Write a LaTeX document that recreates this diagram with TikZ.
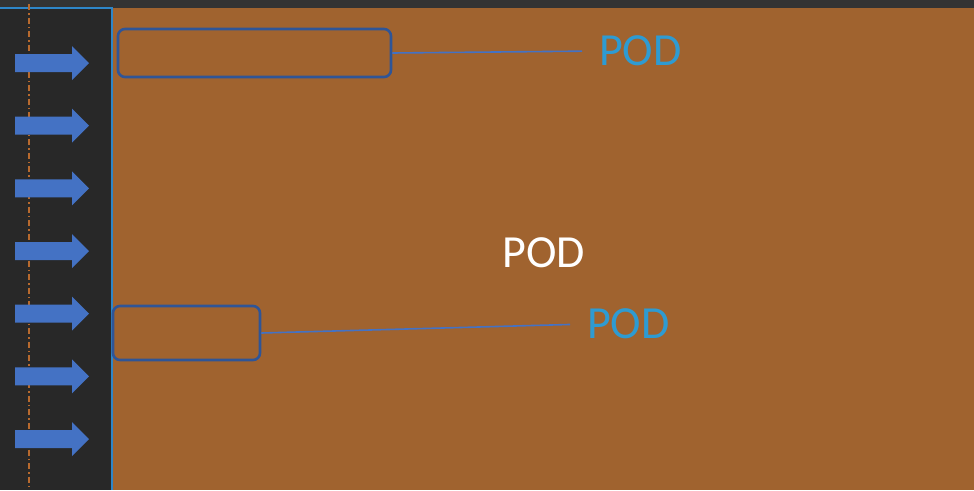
\documentclass[tikz,border=0pt]{standalone}
\usepackage{fontspec}
\setmainfont{Carlito}
\usetikzlibrary{positioning}
\definecolor{podbrown}{HTML}{A0632F}
\definecolor{panelgray}{HTML}{282828}
\definecolor{topgray}{HTML}{333333}
\definecolor{edgeblue}{HTML}{2E86C8}
\definecolor{arrowblue}{HTML}{4472C4}
\definecolor{boxblue}{HTML}{2F5597}
\definecolor{podblue}{HTML}{2E9BD2}
\definecolor{dashorange}{HTML}{B86A2E}

\tikzset{podbox/.style={draw=boxblue, line width=2.6pt, rounded corners=7pt, inner sep=0pt}}
\tikzset{podlabel/.style={text=podblue, font=\fontsize{46}{46}\selectfont, inner sep=0pt, anchor=west}}
\tikzset{tie/.style={draw=arrowblue, line width=1.6pt, shorten >=17pt}}

\begin{document}
\begin{tikzpicture}[x=1pt,y=-1pt]
\useasboundingbox (0,0) rectangle (974,490);
\fill[topgray] (0,0) rectangle (974,8);
\fill[panelgray] (0,8) rectangle (113,490);
\fill[podbrown] (113,8) rectangle (974,490);
\draw[edgeblue, line width=2.6pt] (0,8) -- (112,8) -- (112,490);
\draw[dashorange, line width=1.4pt, dash pattern=on 6pt off 3pt on 1.5pt off 3pt] (29,4) -- (29,490);
\foreach \i in {0,...,6}
  \fill[arrowblue] (15,63+62.67*\i-9) -- (72,63+62.67*\i-9) -- (72,63+62.67*\i-17)
    -- (89,63+62.67*\i) -- (72,63+62.67*\i+17) -- (72,63+62.67*\i+9) -- (15,63+62.67*\i+9) -- cycle;
\node[podbox, minimum width=273pt, minimum height=48pt] (pod1) at (254.5,53) {};
\node[podbox, minimum width=147pt, minimum height=54pt] (pod2) at (186.5,333) {};
\node[podlabel] (lab1) at (599,51) {POD};
\node[podlabel] (lab2) at (587,324) {POD};
\node[text=white, font=\fontsize{46}{46}\selectfont, inner sep=0pt] (podmain) at (543.5,253) {POD};
\draw[tie] (pod1.east) -- (lab1.west);
\draw[tie] (pod2.east) -- (lab2.west);
\end{tikzpicture}
\end{document}
